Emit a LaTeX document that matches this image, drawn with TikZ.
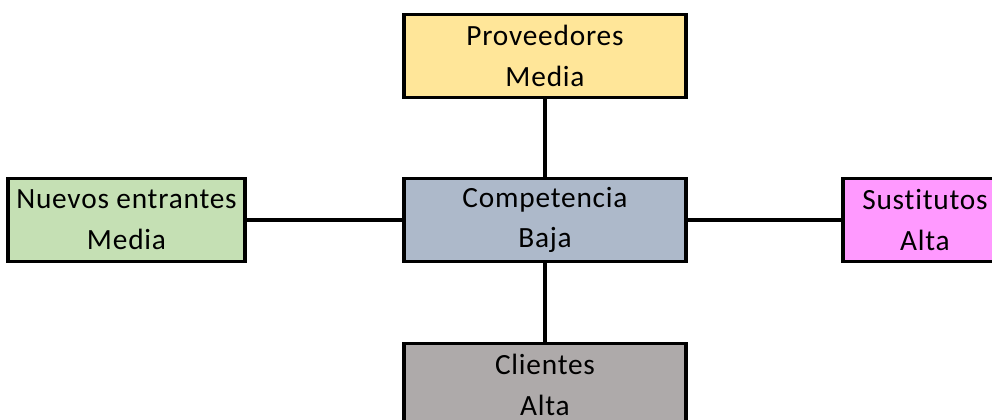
\documentclass[tikz,border=0pt]{standalone}
\usepackage{fontspec}
\setmainfont[LetterSpace=2.7,Ligatures=NoCommon]{Carlito}
\definecolor{proveedor}{HTML}{FFE699}
\definecolor{entrante}{HTML}{C5E0B4}
\definecolor{competencia}{HTML}{ADB9CA}
\definecolor{sustituto}{HTML}{FF99FF}
\definecolor{cliente}{HTML}{AEAAAA}
\tikzset{
  fuerza/.style={draw=black,line width=2.3pt,align=center,minimum height=62pt,
    inner sep=0pt,font=\fontsize{22}{30.5}\selectfont},
  enlace/.style={line width=2.3pt}
}
\begin{document}
\begin{tikzpicture}[x=0.75pt,y=-0.75pt]
	    \useasboundingbox (0,0) rectangle (992,419);
	    \clip (0,0) rectangle (992,419);
	    % fuerzas de Porter
	    \node[fuerza,fill=competencia,minimum width=211.5pt](comp) at (545,220) {Competencia\\Baja};
	    \node[fuerza,fill=proveedor,minimum width=211.5pt](prov) at (545,56) {Proveedores\\Media};
	    \node[fuerza,fill=entrante,minimum width=177.75pt](nuev) at (126.5,220) {Nuevos entrantes\\Media};
	    \node[fuerza,fill=sustituto,minimum width=123pt](sust) at (925,220) {Sustitutos\\Alta};
	    \node[fuerza,fill=cliente,minimum width=211.5pt](clie) at (545,385) {Clientes\\Alta};
	    % enlaces
	    \draw[enlace](comp)--(prov);
	    \draw[enlace](comp)--(nuev);
	    \draw[enlace](comp)--(sust);
	    \draw[enlace](comp)--(clie);
	\end{tikzpicture}
\end{document}
